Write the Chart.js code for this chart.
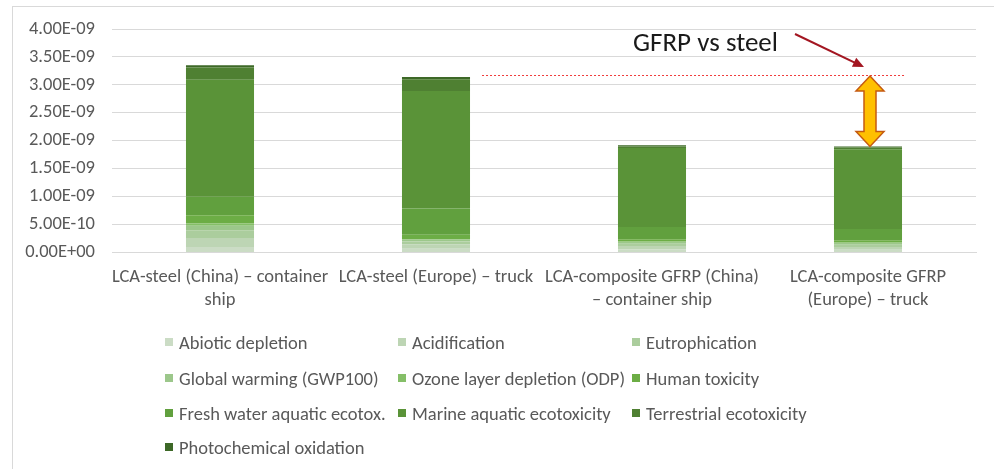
<!DOCTYPE html>
<html>
<head>
<meta charset="utf-8">
<script src="https://cdn.jsdelivr.net/npm/chart.js@4.4.0/dist/chart.umd.min.js"></script>
<style>
body {margin: 0; background: #fff;}
#wrap {position: relative; width: 994px; height: 469px; overflow: hidden; font-family: Carlito, Lato, sans-serif;}
#frame {position: absolute; left: 12px; top: 6px; width: 1000px; height: 480px; border: 1px solid #d9d9d9;}
#myChart {position: absolute; left: 0; top: 0;}
.item {position: absolute; display: flex; align-items: center; height: 22px; font-size: 18.5px; color: #595959; white-space: nowrap;}
.item .box {display: inline-block; width: 8px; height: 8px; margin-right: 6px;}
</style>
</head>
<body>
<div id="wrap">
    <div id="frame"></div>
    <canvas id="myChart" width="994" height="469"></canvas>
    <div id="legend"></div>
</div>
<script>
var categories = [
    ["LCA-steel (China) – container", "ship"],
    "LCA-steel (Europe) – truck",
    ["LCA-composite GFRP (China)", "– container ship"],
    ["LCA-composite GFRP", "(Europe) – truck"]
];
var seriesNames = ["Abiotic depletion", "Acidification", "Eutrophication",
    "Global warming (GWP100)", "Ozone layer depletion (ODP)", "Human toxicity",
    "Fresh water aquatic ecotox.", "Marine aquatic ecotoxicity", "Terrestrial ecotoxicity",
    "Photochemical oxidation"];

var abiotic = [0.10e-9, 0.07e-9, 0.06e-9, 0.05e-9];
var acidification = [0.16e-9, 0.08e-9, 0.06e-9, 0.05e-9];
var eutrophication = [0.14e-9, 0.05e-9, 0.04e-9, 0.04e-9];
var globalWarming = [0.08e-9, 0.03e-9, 0.03e-9, 0.03e-9];
var ozone = [0.04e-9, 0.01e-9, 0.01e-9, 0.01e-9];
var humanTox = [0.15e-9, 0.08e-9, 0.04e-9, 0.04e-9];
var freshWater = [0.33e-9, 0.47e-9, 0.22e-9, 0.20e-9];
var marine = [2.09e-9, 2.10e-9, 1.41e-9, 1.43e-9];
var terrestrial = [0.22e-9, 0.21e-9, 0.03e-9, 0.03e-9];
var photochemical = [0.04e-9, 0.04e-9, 0.02e-9, 0.02e-9];

var yTicks = [0, 0.5e-9, 1.0e-9, 1.5e-9, 2.0e-9, 2.5e-9, 3.0e-9, 3.5e-9, 4.0e-9];

var allSeries = [abiotic, acidification, eutrophication, globalWarming, ozone,
    humanTox, freshWater, marine, terrestrial, photochemical];
var greens = ["#cbdcc5", "#bdd5b4", "#abcd9d", "#9cc78b", "#85bf68",
    "#6cad45", "#61a03e", "#5a9338", "#4f8032", "#3d6827"];

var totals = categories.map(function (c, i) {
    return allSeries.reduce(function (s, arr) { return s + arr[i]; }, 0);
});

var textFont = "Carlito, Lato, sans-serif";

function sci(v) {
    if (v === 0) return "0.00E+00";
    var parts = v.toExponential(2).split("e");
    var n = parseInt(parts[1], 10);
    return parts[0] + "E" + (n < 0 ? "-" : "+") + String(Math.abs(n)).padStart(2, "0");
}

// arrows, dashed reference line and caption
var annotate = {
    id: "annotate",
    afterDatasetsDraw: function (chart) {
        var ctx = chart.ctx;
        var y = chart.scales.y;
        var meta = chart.getDatasetMeta(0);
        var bar2 = meta.data[1], bar4 = meta.data[3];
        var steelTop = Math.round(y.getPixelForValue(totals[1]));
        var gfrpTop = y.getPixelForValue(totals[3]);
        var xa = bar4.x + 2;

        ctx.save();
        ctx.strokeStyle = "#f03c3c";
        ctx.lineWidth = 1;
        ctx.setLineDash([2, 2]);
        ctx.beginPath();
        ctx.moveTo(bar2.x + bar2.width / 2 + 12, steelTop - 1.5);
        ctx.lineTo(xa + 35, steelTop - 1.5);
        ctx.stroke();
        ctx.setLineDash([]);

        // double arrow
        var t = steelTop - 1, b = gfrpTop, hw = 14, sw = 6, hl = 15;
        ctx.beginPath();
        ctx.moveTo(xa, t);
        ctx.lineTo(xa + hw, t + hl);
        ctx.lineTo(xa + sw, t + hl);
        ctx.lineTo(xa + sw, b - hl);
        ctx.lineTo(xa + hw, b - hl);
        ctx.lineTo(xa, b);
        ctx.lineTo(xa - hw, b - hl);
        ctx.lineTo(xa - sw, b - hl);
        ctx.lineTo(xa - sw, t + hl);
        ctx.lineTo(xa - hw, t + hl);
        ctx.closePath();
        ctx.fillStyle = "#ffc000";
        ctx.fill();
        ctx.strokeStyle = "#c55a11";
        ctx.lineWidth = 1.5;
        ctx.stroke();

        // pointer arrow
        var x0 = 795, y0 = 34, x1 = xa - 6, y1 = steelTop - 10;
        var ang = Math.atan2(y1 - y0, x1 - x0);
        ctx.strokeStyle = "#a31621";
        ctx.fillStyle = "#a31621";
        ctx.lineWidth = 2;
        ctx.beginPath();
        ctx.moveTo(x0, y0);
        ctx.lineTo(x1 - 8 * Math.cos(ang), y1 - 8 * Math.sin(ang));
        ctx.stroke();
        ctx.beginPath();
        ctx.moveTo(x1, y1);
        ctx.lineTo(x1 - 11 * Math.cos(ang) + 5 * Math.sin(ang), y1 - 11 * Math.sin(ang) - 5 * Math.cos(ang));
        ctx.lineTo(x1 - 11 * Math.cos(ang) - 5 * Math.sin(ang), y1 - 11 * Math.sin(ang) + 5 * Math.cos(ang));
        ctx.closePath();
        ctx.fill();

        ctx.fillStyle = "#1a1a1a";
        ctx.font = "27px " + textFont;
        ctx.textBaseline = "middle";
        ctx.textAlign = "left";
        ctx.fillText("GFRP vs steel", 633, 44);
        ctx.restore();
    }
};

var chart = new Chart("myChart", {
    type: "bar",
    data: {
        labels: categories,
        datasets: allSeries.map(function (arr, i) {
            return {
                label: seriesNames[i],
                data: arr,
                backgroundColor: greens[i],
                borderWidth: 0,
                barPercentage: 0.315,
                categoryPercentage: 1
            };
        })
    },
    options: {
        responsive: false,
        animation: false,
        layout: {padding: {left: 12, right: 18, top: 29, bottom: 144}},
        plugins: {legend: {display: false}, tooltip: {enabled: false}},
        scales: {
            x: {
                stacked: true,
                grid: {display: false, drawTicks: false},
                border: {display: true, color: "#d9d9d9"},
                ticks: {
                    color: "#595959",
                    padding: 14,
                    maxRotation: 0,
                    autoSkip: false,
                    font: {family: textFont, size: 18.5, lineHeight: 1.2}
                }
            },
            y: {
                stacked: true,
                min: 0,
                max: 4e-9,
                afterBuildTicks: function (axis) {
                    axis.ticks = yTicks.map(function (v) { return {value: v}; });
                },
                afterFit: function (axis) { axis.width = 100; },
                grid: {color: "#d9d9d9", drawTicks: false},
                border: {display: false},
                ticks: {
                    color: "#595959",
                    padding: 17,
                    font: {family: textFont, size: 18.5},
                    callback: function (v) { return sci(v); }
                }
            }
        }
    },
    plugins: [annotate]
});

// legend built from the chart's datasets, laid out in three columns
var colX = [165, 398, 632];
var rowY = [342, 378, 413, 447];
var legend = document.getElementById("legend");
chart.data.datasets.forEach(function (ds, i) {
    var el = document.createElement("div");
    el.className = "item";
    el.style.left = colX[i % 3] + "px";
    el.style.top = (rowY[Math.floor(i / 3)] - 11) + "px";
    el.innerHTML = '<span class="box" style="background:' + ds.backgroundColor + '"></span>' + ds.label;
    legend.appendChild(el);
});
</script>
</body>
</html>
